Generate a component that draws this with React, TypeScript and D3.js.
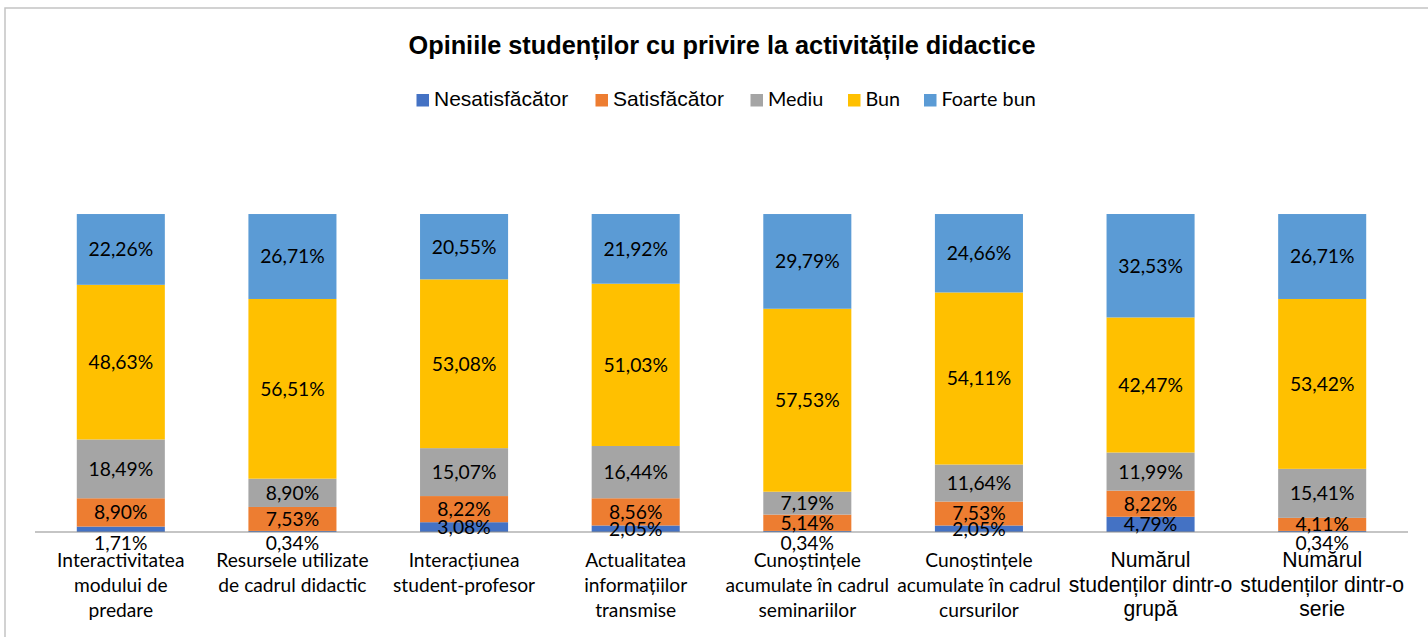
import React from "react";
import * as d3 from "d3";

// ---------- data ----------
const categoryLines: string[][] = [
  ["Interactivitatea", "modului de", "predare"],
  ["Resursele utilizate", "de cadrul didactic"],
  ["Interacțiunea", "student-profesor"],
  ["Actualitatea", "informațiilor", "transmise"],
  ["Cunoștințele", "acumulate în cadrul", "seminariilor"],
  ["Cunoștințele", "acumulate în cadrul", "cursurilor"],
  ["Numărul", "studenților dintr-o", "grupă"],
  ["Numărul", "studenților dintr-o", "serie"],
];
const seriesNames = ["Nesatisfăcător", "Satisfăcător", "Mediu", "Bun", "Foarte bun"];
const nesatisfacator = [1.71, 0.34, 3.08, 2.05, 0.34, 2.05, 4.79, 0.34];
const satisfacator = [8.9, 7.53, 8.22, 8.56, 5.14, 7.53, 8.22, 4.11];
const mediu = [18.49, 8.9, 15.07, 16.44, 7.19, 11.64, 11.99, 15.41];
const bun = [48.63, 56.51, 53.08, 51.03, 57.53, 54.11, 42.47, 53.42];
const foarteBun = [22.26, 26.71, 20.55, 21.92, 29.79, 24.66, 32.53, 26.71];
const title = "Opiniile studenților cu privire la activitățile didactice";

// ---------- styles ----------
const colors = ["#4472C4", "#ED7D31", "#A5A5A5", "#FFC000", "#5B9BD5"];
const CAL = "Lato, 'Open Sans', sans-serif";
const ARIAL = "'Liberation Sans', Arial, sans-serif";

export default function App() {
  const W = 1428;
  const H = 637;
  const plotLeft = 35;
  const plotRight = 1408;
  const axisY = 532;
  const topY = 214;

  const keys = categoryLines.map((_, i) => "c" + i);
  const seriesValues = [nesatisfacator, satisfacator, mediu, bun, foarteBun];
  const rows = keys.map((k, i) => {
    const r: any = { key: k, idx: i };
    seriesNames.forEach((s, j) => (r[s] = seriesValues[j][i]));
    return r;
  });
  const stacked = d3.stack<any>().keys(seriesNames)(rows);

  const x = d3
    .scaleBand<string>()
    .domain(keys)
    .range([plotLeft, plotRight])
    .paddingInner(0.487)
    .paddingOuter(0.2435);
  const y = d3.scaleLinear().domain([0, 100]).range([axisY, topY]);

  const fmt = (v: number) => v.toFixed(2).replace(".", ",") + "%";

  const legendPos = [416.5, 595.5, 750.5, 848, 924];
  const legendArial = [true, true, false, false, false];
  const arialCats = new Set([6, 7]);

  return (
    <svg
      width={W}
      height={H}
      style={{ position: "absolute", left: 0, top: 0, background: "#fff" }}
    >
      <rect x={0} y={0} width={W} height={H} fill="#fff" />
      <rect
        x={5}
        y={8}
        width={W + 20}
        height={H + 20}
        fill="#fff"
        stroke="#c4c4c4"
        strokeWidth={1.5}
      />
      <text
        x={722}
        y={53.5}
        textAnchor="middle"
        fontFamily={ARIAL}
        fontWeight="bold"
        fontSize={25.3}
        fill="#000"
      >
        {title}
      </text>

      {/* legend */}
      {seriesNames.map((s, i) => (
        <g key={s}>
          <rect x={legendPos[i]} y={94} width={12.5} height={12.5} fill={colors[i]} />
          <text
            x={legendPos[i] + 17.5}
            y={106}
            fontFamily={legendArial[i] ? ARIAL : CAL}
            fontSize={legendArial[i] ? 21 : 19.8}
            fill="#000"
          >
            {s}
          </text>
        </g>
      ))}

      {/* bars */}
      {stacked.map((layer, si) => (
        <g key={layer.key}>
          {layer.map((d: any) => (
            <rect
              key={d.data.key}
              x={x(d.data.key)}
              y={y(d[1])}
              width={x.bandwidth()}
              height={Math.max(0, y(d[0]) - y(d[1]))}
              fill={colors[si]}
            />
          ))}
        </g>
      ))}

      {/* axis line */}
      <line x1={plotLeft} x2={plotRight} y1={axisY} y2={axisY} stroke="#8c8c8c" strokeWidth={1.2} />

      {/* data labels */}
      {stacked.map((layer, si) => (
        <g key={"l" + layer.key}>
          {layer.map((d: any) => {
            const v = d[1] - d[0];
            const cx = (x(d.data.key) as number) + x.bandwidth() / 2;
            let cy = (y(d[0]) + y(d[1])) / 2;
            if (si === 0 && v < 2) cy = axisY + 11;
            return (
              <text
                key={d.data.key}
                x={cx}
                y={cy}
                dy="0.36em"
                textAnchor="middle"
                fontFamily={CAL}
                fontSize={19.3}
                fill="#000"
              >
                {fmt(seriesValues[si][d.data.idx])}
              </text>
            );
          })}
        </g>
      ))}

      {/* category labels */}
      {categoryLines.map((lines, i) => {
        const cx = (x(keys[i]) as number) + x.bandwidth() / 2;
        const arial = arialCats.has(i);
        return (
          <text
            key={keys[i]}
            textAnchor="middle"
            fontFamily={arial ? ARIAL : CAL}
            fontSize={arial ? 21.2 : 19.2}
            fill="#000"
          >
            {lines.map((ln, j) => (
              <tspan key={j} x={cx} y={567.3 + j * (arial ? 24.3 : 25)}>
                {ln}
              </tspan>
            ))}
          </text>
        );
      })}
    </svg>
  );
}
